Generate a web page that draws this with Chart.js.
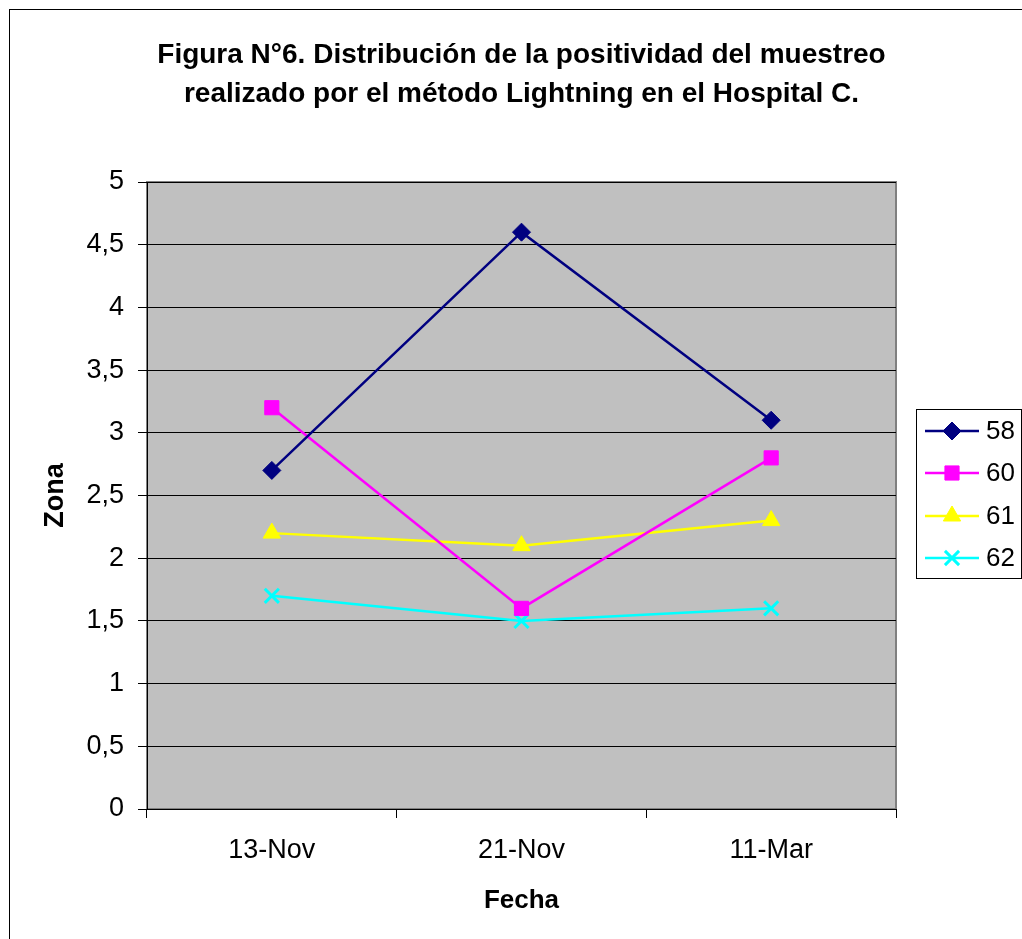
<!DOCTYPE html>
<html>
<head>
<meta charset="utf-8">
<title>Figura N°6</title>
<script src="https://cdn.jsdelivr.net/npm/chart.js@4/dist/chart.umd.min.js"></script>
<style>
  body { margin: 0; background: #fff; }
  canvas { display: block; }
</style>
</head>
<body>
<canvas id="grafico" width="1022" height="939"></canvas>
<script>
// datos
const fechas = ['13-Nov', '21-Nov', '11-Mar'];
const serie58 = [2.7, 4.6, 3.1];
const serie60 = [3.2, 1.6, 2.8];
const serie61 = [2.2, 2.1, 2.3];
const serie62 = [1.7, 1.5, 1.6];
const yTicks = [0, 0.5, 1, 1.5, 2, 2.5, 3, 3.5, 4, 4.5, 5];

const FONT = "'Liberation Sans', Arial, sans-serif";

function serie(label, data, color, pointStyle, radius) {
  return {
    label: label,
    data: data,
    borderColor: color,
    backgroundColor: color,
    pointBackgroundColor: color,
    pointBorderColor: color,
    borderWidth: 2.5,
    pointStyle: pointStyle,
    pointRadius: radius,
    pointBorderWidth: pointStyle === 'crossRot' ? 3 : 1,
    tension: 0
  };
}

const datasets = [
  serie('58', serie58, '#000080', 'rectRot', 9),
  serie('60', serie60, '#FF00FF', 'rect', 10),
  serie('61', serie61, '#FFFF00', 'triangle', 10),
  serie('62', serie62, '#00FFFF', 'crossRot', 10)
];

// fondo gris del área de trazado y marco exterior
const fondoPlugin = {
  id: 'fondo',
  beforeDraw(chart) {
    const { ctx, chartArea: a } = chart;
    ctx.save();
    ctx.strokeStyle = '#000';
    ctx.lineWidth = 1;
    ctx.strokeRect(9.5, 9.5, 1200, 1200);
    ctx.fillStyle = '#C0C0C0';
    ctx.fillRect(a.left, a.top, a.right - a.left, a.bottom - a.top);
    ctx.strokeStyle = '#808080';
    ctx.lineWidth = 2;
    ctx.strokeRect(a.left, a.top, a.right - a.left, a.bottom - a.top);
    ctx.restore();
  }
};

// leyenda a la derecha, con línea y marcador
const leyendaPlugin = {
  id: 'leyenda',
  afterDraw(chart) {
    const ctx = chart.ctx;
    const box = { x: 916.5, y: 409.5, w: 105, h: 169 };
    const filas = [431, 473, 516, 558];
    ctx.save();
    ctx.strokeStyle = '#000';
    ctx.lineWidth = 1;
    ctx.strokeRect(box.x, box.y, box.w, box.h);
    chart.data.datasets.forEach((ds, i) => {
      const y = filas[i];
      ctx.strokeStyle = ds.borderColor;
      ctx.lineWidth = 2.5;
      ctx.beginPath();
      ctx.moveTo(925, y);
      ctx.lineTo(979, y);
      ctx.stroke();
      ctx.fillStyle = ds.pointBackgroundColor;
      ctx.strokeStyle = ds.pointBorderColor;
      ctx.lineWidth = ds.pointBorderWidth;
      Chart.helpers.drawPoint(ctx, {
        pointStyle: ds.pointStyle,
        radius: ds.pointRadius,
        rotation: 0,
        borderWidth: ds.pointBorderWidth
      }, 952, y);
      ctx.fillStyle = '#000';
      ctx.font = '26px ' + FONT;
      ctx.textAlign = 'left';
      ctx.textBaseline = 'middle';
      ctx.fillText(ds.label, 986, y + 1);
    });
    ctx.restore();
  }
};

new Chart(document.getElementById('grafico'), {
  type: 'line',
  data: { labels: fechas, datasets: datasets },
  plugins: [fondoPlugin, leyendaPlugin],
  options: {
    responsive: false,
    animation: false,
    devicePixelRatio: 1,
    layout: { padding: { left: 9, right: 126, top: 0, bottom: 0 } },
    plugins: {
      legend: { display: false },
      tooltip: { enabled: false },
      title: {
        display: true,
        fullSize: false,
        text: ['Figura N°6. Distribución de la positividad del muestreo',
               'realizado por el método Lightning en el Hospital C.'],
        color: '#000',
        font: { family: FONT, size: 28, weight: 'bold', lineHeight: 1.393 },
        padding: { top: 36, bottom: 68 }
      }
    },
    scales: {
      x: {
        offset: true,
        grid: { offset: true, drawOnChartArea: false, drawTicks: true, tickLength: 9, color: '#000' },
        border: { color: '#000', width: 1 },
        ticks: { color: '#000', font: { family: FONT, size: 27 }, padding: 16, maxRotation: 0 },
        title: {
          display: true, text: 'Fecha', color: '#000',
          font: { family: FONT, size: 26, weight: 'bold' },
          padding: { top: 0, bottom: 23 }
        },
        afterFit(scale) { scale.height = 130; }
      },
      y: {
        min: 0,
        max: 5,
        afterBuildTicks(scale) { scale.ticks = yTicks.map(v => ({ value: v })); },
        grid: { color: '#000', tickLength: 9, lineWidth: 1 },
        border: { color: '#000', width: 1 },
        ticks: {
          color: '#000', font: { family: FONT, size: 27 }, padding: 14,
          callback: v => String(v).replace('.', ',')
        },
        title: {
          display: true, text: 'Zona', color: '#000',
          font: { family: FONT, size: 27, weight: 'bold' },
          padding: { top: 30, bottom: 0 }
        },
        afterFit(scale) { scale.width = 138; }
      }
    }
  }
});
</script>
</body>
</html>
